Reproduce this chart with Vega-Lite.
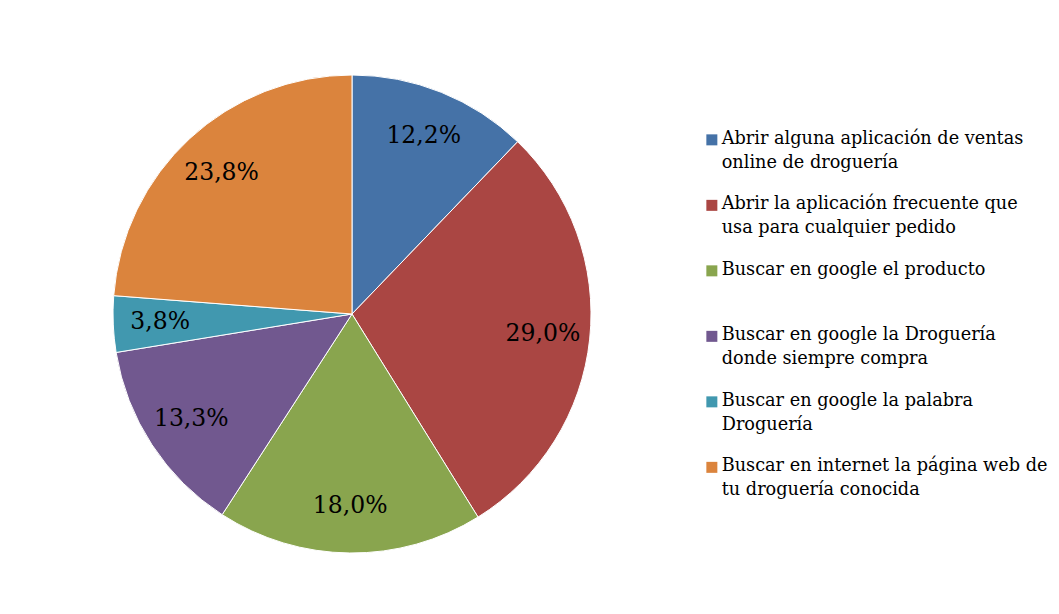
{
  "$schema": "https://vega.github.io/schema/vega-lite/v6.json",
  "width": 688,
  "height": 614,
  "padding": {"left": 8, "top": 7, "right": 0, "bottom": 0},
  "background": "white",
  "config": {
    "view": {"stroke": null},
    "style": {"guide-label": {"lineHeight": 24, "dy": 4}}
  },
  "data": {
    "values": [
      {"opcion": "Abrir alguna aplicación de ventas online de droguería", "pct": 12.2, "label": "12,2%"},
      {"opcion": "Abrir la aplicación frecuente que usa para cualquier pedido", "pct": 29.0, "label": "29,0%"},
      {"opcion": "Buscar en google el producto", "pct": 18.0, "label": "18,0%"},
      {"opcion": "Buscar en google la Droguería donde siempre compra", "pct": 13.3, "label": "13,3%"},
      {"opcion": "Buscar en google la palabra Droguería", "pct": 3.8, "label": "3,8%"},
      {"opcion": "Buscar en internet la página web de tu droguería conocida", "pct": 23.8, "label": "23,8%"}
    ]
  },
  "encoding": {
    "theta": {"field": "pct", "type": "quantitative", "stack": true},
    "order": {"field": "opcion", "type": "nominal"}
  },
  "layer": [
    {
      "mark": {"type": "arc", "outerRadius": 239, "stroke": "white", "strokeWidth": 1},
      "encoding": {
        "color": {
          "field": "opcion",
          "type": "nominal",
          "scale": {
            "domain": [
              "Abrir alguna aplicación de ventas online de droguería",
              "Abrir la aplicación frecuente que usa para cualquier pedido",
              "Buscar en google el producto",
              "Buscar en google la Droguería donde siempre compra",
              "Buscar en google la palabra Droguería",
              "Buscar en internet la página web de tu droguería conocida"
            ],
            "range": ["#4572A7", "#AA4643", "#89A54E", "#71588F", "#4198AF", "#DB843D"]
          },
          "legend": {
            "title": null,
            "orient": "none",
            "legendX": 695,
            "legendY": 124,
            "symbolType": "square",
            "symbolSize": 121,
            "symbolStrokeWidth": 0,
            "labelFont": "DejaVu Serif",
            "labelFontSize": 17.7,
            "labelColor": "#000000",
            "labelLimit": 500,
            "labelOffset": 1,
            "labelBaseline": "alphabetic",
            "rowPadding": 22.5,
            "gridAlign": "all",
            "labelExpr": "datum.label == 'Abrir alguna aplicación de ventas online de droguería' ? ['Abrir alguna aplicación de ventas', 'online de droguería'] : datum.label == 'Abrir la aplicación frecuente que usa para cualquier pedido' ? ['Abrir la aplicación frecuente que', 'usa para cualquier pedido'] : datum.label == 'Buscar en google la Droguería donde siempre compra' ? ['Buscar en google la Droguería', 'donde siempre compra'] : datum.label == 'Buscar en google la palabra Droguería' ? ['Buscar en google la palabra', 'Droguería'] : datum.label == 'Buscar en internet la página web de tu droguería conocida' ? ['Buscar en internet la página web de', 'tu droguería conocida'] : datum.label"
          }
        }
      }
    },
    {
      "mark": {"type": "text", "radius": 192, "font": "DejaVu Serif", "fontSize": 23.5, "color": "#000000"},
      "encoding": {"text": {"field": "label", "type": "nominal"}}
    }
  ]
}
